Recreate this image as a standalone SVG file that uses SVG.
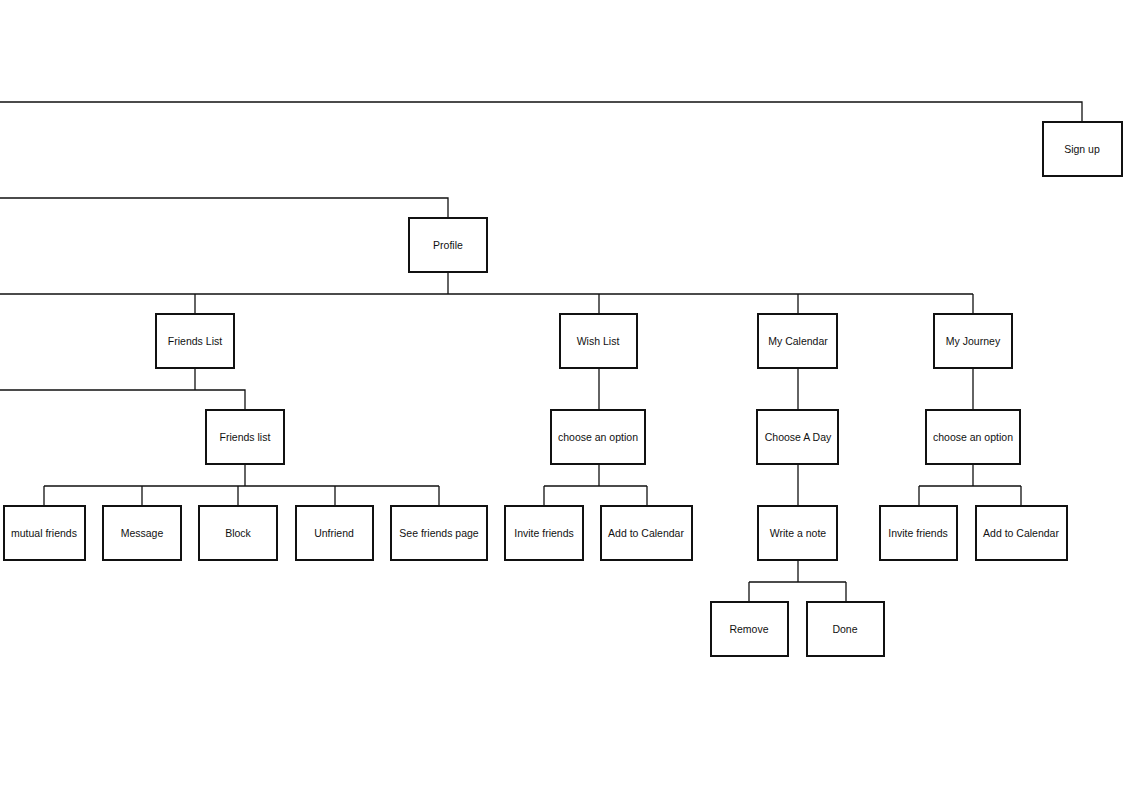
<svg xmlns="http://www.w3.org/2000/svg" width="1134" height="785" viewBox="0 0 1134 785">
<style>
.box{fill:#fff;stroke:#111;stroke-width:2}
.ln{fill:none;stroke:#111;stroke-width:1.3}
text{font-family:"Liberation Sans",Arial,sans-serif;font-size:10.5px;fill:#111;text-anchor:middle;dominant-baseline:central}
</style>
<rect width="1134" height="785" fill="#fff"/>
<g id="connectors">
<path class="ln" d="M0 102H1082V122"/>
<path class="ln" d="M0 198H448V218"/>
<path class="ln" d="M448 272V294M0 294H973M195 294V314M599 294V314M798 294V314M973 294V314"/>
<path class="ln" d="M195 368V390M0 390H245V410"/>
<path class="ln" d="M245 464V486M44 486H439M44 486V506M142 486V506M238 486V506M335 486V506M439 486V506"/>
<path class="ln" d="M599 368V410M599 464V486M544 486H647M544 486V506M647 486V506"/>
<path class="ln" d="M798 368V410M798 464V506M798 560V582M749 582H846M749 582V602M846 582V602"/>
<path class="ln" d="M973 368V410M973 464V486M919 486H1021M919 486V506M1021 486V506"/>
</g>
<g id="signup"><rect class="box" x="1043" y="122" width="79" height="54"/><text x="1082" y="149">Sign up</text></g>
<g id="profile"><rect class="box" x="409" y="218" width="78" height="54"/><text x="448" y="245">Profile</text></g>
<g id="friendsList"><rect class="box" x="156" y="314" width="78" height="54"/><text x="195" y="341">Friends List</text></g>
<g id="wishList"><rect class="box" x="560" y="314" width="77" height="54"/><text x="598" y="341">Wish List</text></g>
<g id="myCalendar"><rect class="box" x="758" y="314" width="79" height="54"/><text x="798" y="341">My Calendar</text></g>
<g id="myJourney"><rect class="box" x="934" y="314" width="78" height="54"/><text x="973" y="341">My Journey</text></g>
<g id="friendsList2"><rect class="box" x="206" y="410" width="78" height="54"/><text x="245" y="437">Friends list</text></g>
<g id="wishOption"><rect class="box" x="551" y="410" width="94" height="54"/><text x="598" y="437">choose an option</text></g>
<g id="chooseDay"><rect class="box" x="757" y="410" width="81" height="54"/><text x="798" y="437">Choose A Day</text></g>
<g id="journeyOption"><rect class="box" x="926" y="410" width="94" height="54"/><text x="973" y="437">choose an option</text></g>
<g id="mutual"><rect class="box" x="4" y="506" width="81" height="54"/><text x="44" y="533">mutual friends</text></g>
<g id="message"><rect class="box" x="103" y="506" width="78" height="54"/><text x="142" y="533">Message</text></g>
<g id="block"><rect class="box" x="199" y="506" width="78" height="54"/><text x="238" y="533">Block</text></g>
<g id="unfriend"><rect class="box" x="296" y="506" width="77" height="54"/><text x="334" y="533">Unfriend</text></g>
<g id="seeFriends"><rect class="box" x="391" y="506" width="96" height="54"/><text x="439" y="533">See friends page</text></g>
<g id="wishInvite"><rect class="box" x="505" y="506" width="78" height="54"/><text x="544" y="533">Invite friends</text></g>
<g id="wishAdd"><rect class="box" x="601" y="506" width="91" height="54"/><text x="646" y="533">Add to Calendar</text></g>
<g id="writeNote"><rect class="box" x="758" y="506" width="79" height="54"/><text x="798" y="533">Write a note</text></g>
<g id="journeyInvite"><rect class="box" x="880" y="506" width="77" height="54"/><text x="918" y="533">Invite friends</text></g>
<g id="journeyAdd"><rect class="box" x="976" y="506" width="91" height="54"/><text x="1021" y="533">Add to Calendar</text></g>
<g id="remove"><rect class="box" x="711" y="602" width="77" height="54"/><text x="749" y="629">Remove</text></g>
<g id="done"><rect class="box" x="807" y="602" width="77" height="54"/><text x="845" y="629">Done</text></g>
</svg>
